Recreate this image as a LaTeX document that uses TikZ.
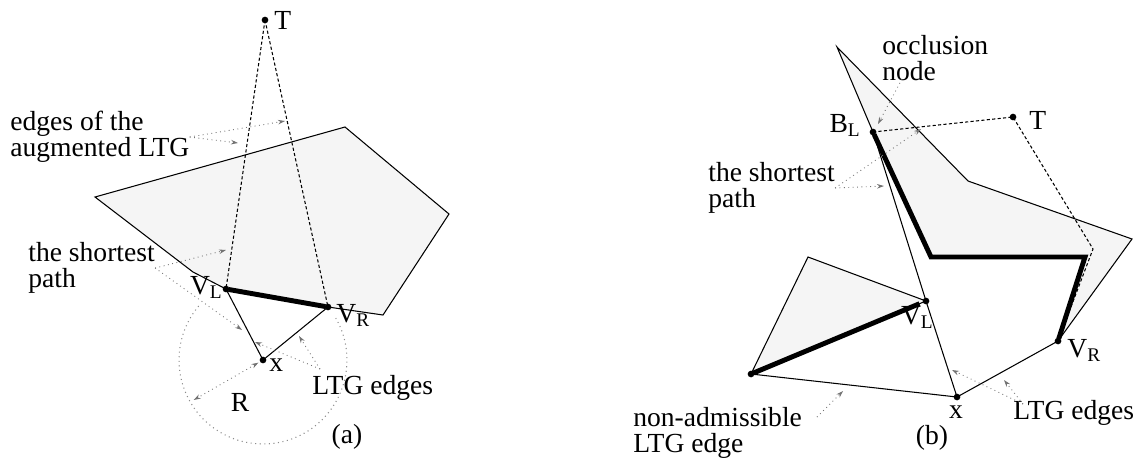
\documentclass[tikz,border=0pt]{standalone}
\usepackage{fontspec}
\setmainfont{Liberation Serif}
\usetikzlibrary{calc,arrows.meta}

\begin{document}
\begin{tikzpicture}[x=0.02cm,y=-0.02cm,
    >={Stealth[length=4pt,width=2.6pt]},
    lbl/.style={font=\fontsize{15.7}{14.6}\selectfont,inner sep=0pt,align=left},
    ltgedge/.style={line width=0.6pt},
    aug/.style={line width=0.6pt,dash pattern=on 1.8pt off 1.3pt},
    spath/.style={line width=2.8pt,line join=miter,shorten <=1.5pt,shorten >=1.5pt},
    callout/.style={black!55,line width=0.5pt,dotted,->},
    obst/.style={fill=black!4}]
\useasboundingbox (0,0) rectangle (1139,461);
% (a)
    \coordinate (A1) at (95,197);
    \coordinate (A2) at (345,127);
    \coordinate (A3) at (449,214);
    \coordinate (A4) at (383,315);
    \coordinate (A7) at (193,272);
    \coordinate (Ta) at (265,20);
    \coordinate (VLa) at (226,289);
    \coordinate (VRa) at (328,307);
    \coordinate (Xa) at (263,360);
    \draw[ltgedge,obst] (A1)--(A2)--(A3)--(A4)--(VRa)--(VLa)--(A7)--cycle;
    \draw[black!45,dotted,line width=0.6pt] ($(Xa)+(140:1.68cm)$) arc[start angle=140,end angle=390,radius=1.68cm];
    \draw[aug] (Ta)--(VLa);
    \draw[aug] (Ta)--(VRa);
    \draw[ltgedge] (Xa)--(VLa);
    \draw[ltgedge] (Xa)--(VRa);
    \draw[spath] (VLa)--(VRa);
    \foreach \p in {Ta,VLa,VRa,Xa} \fill (\p) circle (1.9pt);
    \node[lbl,anchor=west] at (274,20) {T};
    \node[lbl,anchor=north east] at (223,276) {V\textsubscript{L}};
    \node[lbl,anchor=north west] at (336,304) {V\textsubscript{R}};
    \node[lbl,anchor=north west] at (269,358) {x};
    \node[lbl] at (240,402) {R};
    \coordinate (Ra) at ($(Xa)+(210:1.6cm)$);
    \draw[callout,<->,shorten <=3pt] (Xa)--(Ra);
    \node[lbl,anchor=west] (augA) at (10,137) {edges of the\\augmented LTG};
    \node[lbl,anchor=west] (spA) at (28,268) {the shortest\\path};
    \node[lbl,anchor=west] (ltgA) at (312,388) {LTG edges};
    \node[lbl] at (347,437) {(a)};
    \coordinate (augA1) at (238,143);
    \coordinate (augA2) at (285,121);
    \coordinate (spA1) at (226,250);
    \coordinate (spA2) at (242,330);
    \coordinate (ltgAo) at (320,369);
    \coordinate (ltgA1) at (255,342);
    \coordinate (ltgA2) at (299,336);
    \draw[callout] (augA.east)--(augA1);
    \draw[callout] (augA.east)--(augA2);
    \draw[callout] (spA.east)--(spA1);
    \draw[callout] (spA.east)--(spA2);
    \draw[callout] (ltgAo)--(ltgA1);
    \draw[callout] (ltgAo)--(ltgA2);
% (b)
    \coordinate (B1) at (837,47);
    \coordinate (B2) at (968,181);
    \coordinate (B3) at (1132,239);
    \coordinate (C1) at (931,257);
    \coordinate (C2) at (1085,257);
    \coordinate (D) at (1093,249);
    \coordinate (W) at (751,374);
    \coordinate (U) at (808,257);
    \coordinate (BL) at (873,132);
    \coordinate (Tb) at (1013,117);
    \coordinate (VLb) at (926,301);
    \coordinate (VRb) at (1058,341);
    \coordinate (Xb) at (957,397);
    \fill[obst] (B1)--(B2)--(B3)--(VRb)--(C2)--(C1)--(BL)--cycle;
    \draw[ltgedge,obst] (W)--(U)--(VLb)--cycle;
    \draw[ltgedge] (Xb)--(VLb)--(BL)--(B1)--(B2)--(B3)--(VRb)--(Xb);
    \draw[ltgedge] (W)--(Xb);
    \draw[aug] (BL)--(Tb)--(D)--(VRb);
    \draw[spath] (BL)--(C1)--(C2)--(VRb);
    \draw[spath,shorten >=4pt] (W)--(VLb);
    \foreach \p in {BL,Tb,VLb,VRb,Xb,W} \fill (\p) circle (1.9pt);
    \node[lbl,anchor=west] at (1029,120) {T};
    \node[lbl,anchor=north east] at (861,114) {B\textsubscript{L}};
    \node[lbl,anchor=north east] at (934,306) {V\textsubscript{L}};
    \node[lbl,anchor=north west] at (1067,339) {V\textsubscript{R}};
    \node[lbl,anchor=north] at (956,405) {x};
    \node[lbl] at (932,438) {(b)};
    \node[lbl,anchor=north west] (occB) at (882,35) {occlusion\\node};
    \node[lbl,anchor=west] (spB) at (708,188) {the shortest\\path};
    \node[lbl,anchor=west] (ltgB) at (1013,413) {LTG edges};
    \node[lbl,anchor=west] (naB) at (633,433) {non-admissible\\LTG edge};
    \coordinate (occBo) at (902,79);
    \coordinate (occB1) at (878,124);
    \coordinate (spB1) at (921,129);
    \coordinate (spB2) at (884,186);
    \coordinate (ltgBo) at (1023,404);
    \coordinate (ltgB1) at (952,370);
    \coordinate (ltgB2) at (1004,380);
    \coordinate (naBo) at (817,417);
    \coordinate (naB1) at (843,391);
    \draw[callout] (occBo)--(occB1);
    \draw[callout] (spB.east)--(spB1);
    \draw[callout] (spB.east)--(spB2);
    \draw[callout] (ltgBo)--(ltgB1);
    \draw[callout] (ltgBo)--(ltgB2);
    \draw[callout] (naBo)--(naB1);
\end{tikzpicture}
\end{document}
